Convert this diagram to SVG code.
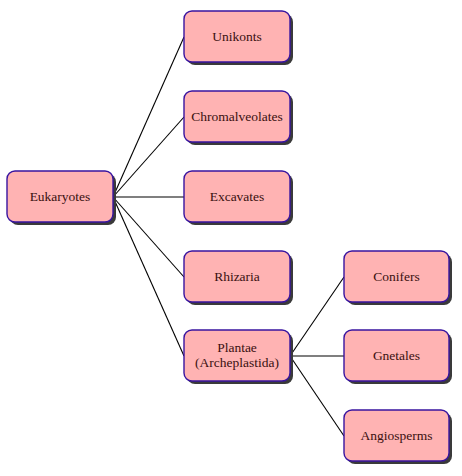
<svg xmlns="http://www.w3.org/2000/svg" width="462" height="476" viewBox="0 0 462 476">
<style>
.sh{fill:#3a3a3a;}
.bx{fill:#ffb3b3;stroke:#3814a0;stroke-width:1.4;}
.t{font-family:"Liberation Serif","Times New Roman",serif;font-size:13.5px;fill:#3a1010;text-anchor:middle;dominant-baseline:central;}
.c{stroke:#000;stroke-width:1.1;fill:none;}
</style>
<rect width="462" height="476" fill="#fff"/>
<g id="connectors">
<line class="c" x1="113" y1="197" x2="184" y2="37"/>
<line class="c" x1="113" y1="197" x2="184" y2="117"/>
<line class="c" x1="113" y1="197" x2="184" y2="197"/>
<line class="c" x1="113" y1="197" x2="184" y2="277"/>
<line class="c" x1="113" y1="197" x2="184" y2="356"/>
<line class="c" x1="290" y1="356" x2="344" y2="277"/>
<line class="c" x1="290" y1="356" x2="344" y2="356"/>
<line class="c" x1="290" y1="356" x2="344" y2="436"/>
</g>
<g id="eukaryotes">
<rect class="sh" x="10" y="174" width="106" height="51" rx="8"/>
<rect class="bx" x="7" y="171" width="106" height="51" rx="8"/>
<text class="t" x="60" y="196.5">Eukaryotes</text>
</g>
<g id="unikonts">
<rect class="sh" x="187" y="14" width="106" height="51" rx="8"/>
<rect class="bx" x="184" y="11" width="106" height="51" rx="8"/>
<text class="t" x="237" y="36.5">Unikonts</text>
</g>
<g id="chromalveolates">
<rect class="sh" x="187" y="94" width="106" height="51" rx="8"/>
<rect class="bx" x="184" y="91" width="106" height="51" rx="8"/>
<text class="t" x="237" y="116.5">Chromalveolates</text>
</g>
<g id="excavates">
<rect class="sh" x="187" y="174" width="106" height="51" rx="8"/>
<rect class="bx" x="184" y="171" width="106" height="51" rx="8"/>
<text class="t" x="237" y="196.5">Excavates</text>
</g>
<g id="rhizaria">
<rect class="sh" x="187" y="254" width="106" height="51" rx="8"/>
<rect class="bx" x="184" y="251" width="106" height="51" rx="8"/>
<text class="t" x="237" y="276.5">Rhizaria</text>
</g>
<g id="plantae">
<rect class="sh" x="187" y="333" width="106" height="51" rx="8"/>
<rect class="bx" x="184" y="330" width="106" height="51" rx="8"/>
<text class="t" x="237" y="347.5">Plantae</text>
<text class="t" x="237" y="362.5">(Archeplastida)</text>
</g>
<g id="conifers">
<rect class="sh" x="347" y="254" width="105" height="51" rx="8"/>
<rect class="bx" x="344" y="251" width="105" height="51" rx="8"/>
<text class="t" x="396.5" y="276.5">Conifers</text>
</g>
<g id="gnetales">
<rect class="sh" x="347" y="333" width="105" height="51" rx="8"/>
<rect class="bx" x="344" y="330" width="105" height="51" rx="8"/>
<text class="t" x="396.5" y="355.5">Gnetales</text>
</g>
<g id="angiosperms">
<rect class="sh" x="347" y="413" width="105" height="51" rx="8"/>
<rect class="bx" x="344" y="410" width="105" height="51" rx="8"/>
<text class="t" x="396.5" y="435.5">Angiosperms</text>
</g>
</svg>
